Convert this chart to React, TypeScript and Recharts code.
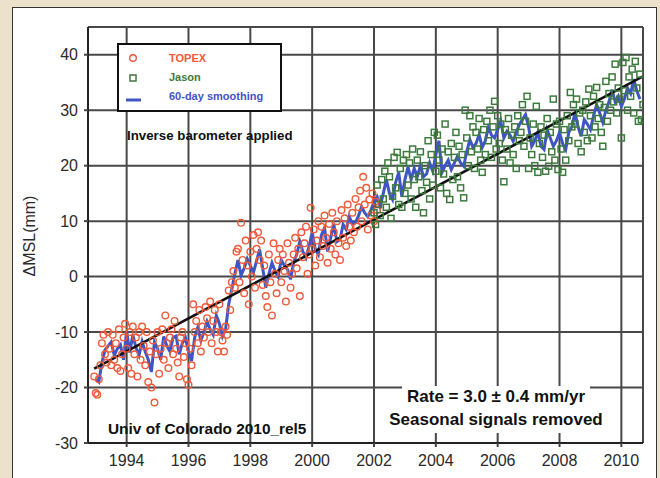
import React from 'react'
import { ComposedChart, Scatter, Line, XAxis, YAxis, CartesianGrid } from 'recharts'

// sampling cadence of each series (decimal years)
const TOPEX_START = 1992.95
const JASON_START = 2002.0
const SMOOTH_START = 1993.0
const SCATTER_STEP = 0.05
const SMOOTH_STEP = 0.1

// TOPEX sea level anomalies (mm), one per SCATTER_STEP
const topexValues = [
  -18, -21, -21.3, -18.5, -16, -12, -10.5, -14, -15.5, -10,
  -13, -16, -10.5, -15, -12, -16.5, -9.5, -17, -14, -11,
  -8.5, -13, -16.5, -10, -17.5, -9, -14, -11, -18, -10,
  -15, -9, -12.5, -16, -10, -19, -13.5, -20, -11.5, -22.7,
  -14, -10, -17.5, -13, -9.5, -15, -7, -12, -16.5, -11,
  -9.5, -14, -8, -13, -15.5, -18, -11, -10, -14.5, -12,
  -18.5, -19.5, -13, -16, -5, -10, -8, -12, -6, -13.5,
  -9, -11, -5.5, -7.5, -10, -4.5, -12, -8, -6, -10,
  -13.5, -5, -10, -11.5, -13.5, -9, -10.5, -2.5, -6, -1,
  1, -2, 4.5, 5, -1, 9.7, 3, -3, 6.5, 2,
  -5, 4.5, 0, 7.5, -2, 5, 8, 3, 6.5, -1.5,
  2, -3.5, -5.5, 4, -1, -7, 6, 0.5, -3, 3,
  5, -1, 4, 1, -4.5, 6, 2.5, -2, 0.5, 4,
  7, 1.5, 5, -3.5, 8, 3.5, 6, 9, 0.5, 4,
  12.4, 5, 8.5, 2, 6.5, 10, 3.5, 9, 5.5, 11,
  7, 2.5, 9.5, 5, 11.5, 8, 4, 10, 6, 3,
  12, 7, 10.5, 5.5, 13, 9, 6.5, 11.5, 8, 14,
  9, 12.5, 15.5, 10, 18, 13, 16, 8.5, 13.9, 11,
  15, 10, 13.5, 12,
]

// Jason sea level anomalies (mm), one per SCATTER_STEP
const jasonValues = [
  11.5, 9.4, 16.5, 13, 11, 17.5, 14, 19, 12.5, 20.5,
  18, 10.5, 14.5, 21.5, 16, 22.4, 13, 19.5, 12.5, 21,
  15, 22, 16.5, 20.5, 14, 23, 17.5, 12.5, 21, 18,
  22.5, 15.5, 11.5, 20, 17, 24.5, 14, 22, 16.5, 26,
  19, 25.5, 21, 16, 23, 18.5, 27.5, 15, 22.5, 13.9,
  24, 17.5, 21.5, 26, 18, 23.5, 16, 22, 14.2, 30,
  25, 20, 29, 22.5, 27, 19.5, 26, 23, 28.5, 21,
  18.8, 26.5, 22, 28, 24.5, 30, 21.5, 27, 31.6, 23,
  29, 24, 27.5, 21, 17.1, 26.5, 23, 28.5, 20.5, 25.5,
  22, 27, 19.5, 29, 24.5, 26, 31, 23.5, 28, 32.5,
  19.5, 25, 22, 27.5, 20, 30.7, 18.8, 24, 27, 21.5,
  25.5, 19, 28.5, 19.9, 26, 22.5, 32, 21, 27.5, 19.3,
  28, 23, 18.8, 26.5, 21, 29, 24.5, 33.2, 27, 31,
  27.5, 32, 24, 29.5, 22.5, 30, 26, 31.5, 24.5, 33.8,
  29, 25, 32.5, 27, 34.1, 28.5, 31, 26, 23.5, 30.5,
  35.2, 28, 33, 30, 36, 31.5, 38.3, 29.5, 34, 32,
  25, 38.6, 33.5, 39.5, 30, 36, 32.5, 37.4, 29.5, 38.8,
  34, 28, 36.5, 28.3, 31,
]

// 60-day smoothed curve (mm), one per SMOOTH_STEP
const smoothValues = [
  -18.5, -19.0, -15.5, -13.2, -12.5, -11.8, -14.2, -13.0, -12.3, -15.0,
  -9.8, -13.7, -10.5, -12.8, -14.2, -11.7, -13.5, -15.0, -17.2, -11.8,
  -13.0, -15.0, -10.8, -12.5, -13.5, -11.0, -10.7, -14.0, -12.0, -11.0,
  -13.5, -15.2, -11.0, -9.2, -11.5, -10.0, -8.1, -9.5, -10.5, -7.0,
  -8.5, -10.8, -9.5, -5.0, -2.3, 0.5, 3.0, 0.2, 1.5, 3.2,
  2.0, 0.7, 2.8, 4.9, 1.5, -2.0, 0.5, 2.5, 1.0, 0.0,
  3.0, 2.0, 1.3, -0.5, 2.5, 4.0, 6.3, 4.5, 3.4, 5.5,
  8.0, 5.0, 4.0, 7.5, 8.8, 4.5, 7.0, 9.4, 6.3, 6.7,
  9.4, 8.5, 10.8, 9.5, 9.7, 11.0, 12.6, 11.5, 10.8, 12.0,
  13.5, 14.4, 12.6, 15.0, 17.5, 15.0, 13.9, 17.0, 18.8, 14.4,
  17.5, 19.8, 17.5, 19.5, 18.0, 20.0, 18.0, 18.5, 20.5, 19.0,
  22.0, 24.5, 18.8, 20.0, 21.0, 19.3, 20.5, 21.7, 20.5, 19.9,
  22.5, 24.7, 23.3, 24.0, 25.6, 23.3, 24.5, 26.9, 25.5, 25.0,
  26.5, 28.0, 25.0, 26.2, 25.5, 24.4, 26.0, 27.4, 28.3, 29.2,
  27.0, 23.5, 24.5, 26.0, 23.5, 22.9, 26.5, 25.0, 23.5, 24.5,
  26.0, 24.0, 22.9, 26.0, 27.0, 29.6, 27.0, 25.3, 28.3, 27.5,
  26.5, 29.0, 31.0, 29.5, 27.8, 30.0, 31.5, 33.7, 31.5, 32.5,
  30.7, 32.0, 34.0, 33.0, 35.6, 33.5, 32.0,
]

// linear fit, 3.0 mm/yr
const trendYears = [1992.95, 2010.7]
const trendValues = [-16.6, 36.1]

const yearTicks = [1994, 1996, 1998, 2000, 2002, 2004, 2006, 2008, 2010]
const mmTicks = [-30, -20, -10, 0, 10, 20, 30, 40]
const X_DOMAIN = [1992.75, 2010.7]
const Y_DOMAIN = [-30, 45]

const minorYears = Array.from({ length: 72 }, (_, i) => 1993 + i * 0.25)
const minorMm = Array.from({ length: 38 }, (_, i) => -30 + i * 2)

const TOPEX_COLOR = '#ee5a3a'
const JASON_COLOR = '#3d7a3d'
const SMOOTH_COLOR = '#3f55c4'
const FONT = '"Liberation Sans", Arial, Helvetica, sans-serif'

const series = (start: number, step: number, vals: number[]) =>
  vals.map((v, i) => ({ x: Math.round((start + i * step) * 1000) / 1000, y: v }))

const topex = series(TOPEX_START, SCATTER_STEP, topexValues)
const jason = series(JASON_START, SCATTER_STEP, jasonValues)
const smooth = series(SMOOTH_START, SMOOTH_STEP, smoothValues)
const trend = trendYears.map((x, i) => ({ x, y: trendValues[i] }))

const circle = (p: any) => (
  <circle cx={p.cx} cy={p.cy} r={3.3} fill="none" stroke={TOPEX_COLOR} strokeWidth={1.4} />
)
const square = (p: any) => (
  <rect x={p.cx - 3} y={p.cy - 3} width={6} height={6} fill="none" stroke={JASON_COLOR} strokeWidth={1.5} />
)

const tickStyle = { fill: '#2a2a2a', fontSize: 16, fontFamily: FONT }

export default function App() {
  return (
    <div style={{ position: 'absolute', left: 0, top: 0, width: 660, height: 478, background: '#ece2cb', overflow: 'hidden', fontFamily: FONT }}>
      <div style={{ position: 'absolute', left: 12, top: 7, width: 645, height: 480, background: '#fff', border: '1.5px solid #333', boxSizing: 'border-box' }} />

      <div style={{ position: 'absolute', left: 0, top: 0 }}>
        <ComposedChart width={660} height={478} margin={{ top: 27, right: 17, bottom: 5, left: 48 }}>
          <CartesianGrid stroke="#484848" strokeWidth={2} />
          <XAxis xAxisId="minB" type="number" domain={X_DOMAIN} ticks={minorYears} tick={false} tickSize={3} axisLine={false} height={0} allowDataOverflow tickLine={{ stroke: '#444' }} />
          <XAxis type="number" dataKey="x" domain={X_DOMAIN} ticks={yearTicks} allowDataOverflow height={30}
            tick={tickStyle} tickSize={4} tickMargin={8} tickLine={{ stroke: '#444', strokeWidth: 2 }}
            axisLine={{ stroke: '#222', strokeWidth: 2 }} />
          <XAxis xAxisId="top" orientation="top" type="number" domain={X_DOMAIN} ticks={minorYears} tick={false} tickSize={3} height={0} allowDataOverflow
            tickLine={{ stroke: '#444' }} axisLine={{ stroke: '#222', strokeWidth: 2 }} />
          <YAxis yAxisId="minL" type="number" domain={Y_DOMAIN} ticks={minorMm} tick={false} tickSize={3} width={0} axisLine={false} allowDataOverflow tickLine={{ stroke: '#444' }} />
          <YAxis type="number" dataKey="y" domain={Y_DOMAIN} ticks={mmTicks} allowDataOverflow width={40}
            tick={tickStyle} tickSize={4} tickMargin={6} tickLine={{ stroke: '#444', strokeWidth: 2 }}
            axisLine={{ stroke: '#222', strokeWidth: 2 }} />
          <YAxis yAxisId="right" orientation="right" type="number" domain={Y_DOMAIN} ticks={minorMm} tick={false} tickSize={3} width={0} allowDataOverflow
            tickLine={{ stroke: '#444' }} axisLine={{ stroke: '#222', strokeWidth: 2 }} />

          <Scatter data={topex} dataKey="y" shape={circle} isAnimationActive={false} />
          <Scatter data={jason} dataKey="y" shape={square} isAnimationActive={false} />
          <Line data={smooth} dataKey="y" type="linear" stroke={SMOOTH_COLOR} strokeWidth={3} dot={false} isAnimationActive={false} />
          <Line data={trend} dataKey="y" type="linear" stroke="#111" strokeWidth={2.6} dot={false} isAnimationActive={false} />
        </ComposedChart>
      </div>

      {/* y-axis title */}
      <div style={{ position: 'absolute', left: 30, top: 236, transform: 'translate(-50%, -50%) rotate(-90deg)', whiteSpace: 'nowrap', fontSize: 16, color: '#2a2a2a' }}>
        ΔMSL(mm)
      </div>

      {/* legend */}
      <div style={{ position: 'absolute', left: 117, top: 43, width: 165, height: 69, border: '2px solid #111', background: '#fff', boxSizing: 'border-box', fontSize: 11, fontWeight: 'bold' }}>
        <svg width={30} height={65} style={{ position: 'absolute', left: 0, top: 0 }}>
          <circle cx={14} cy={13} r={3.3} fill="none" stroke={TOPEX_COLOR} strokeWidth={1.4} />
          <rect x={11} y={30} width={6} height={6} fill="none" stroke={JASON_COLOR} strokeWidth={1.5} />
          <line x1={7} x2={22} y1={55} y2={55} stroke={SMOOTH_COLOR} strokeWidth={3} />
        </svg>
        <div style={{ position: 'absolute', left: 50, top: 7, color: TOPEX_COLOR }}>TOPEX</div>
        <div style={{ position: 'absolute', left: 50, top: 26, color: JASON_COLOR }}>Jason</div>
        <div style={{ position: 'absolute', left: 50, top: 45, color: SMOOTH_COLOR }}>60-day smoothing</div>
      </div>

      <div style={{ position: 'absolute', left: 127, top: 128, fontSize: 13.3, fontWeight: 'bold', color: '#111', whiteSpace: 'nowrap' }}>
        Inverse barometer applied
      </div>
      <div style={{ position: 'absolute', left: 108, top: 420, fontSize: 15.4, fontWeight: 'bold', color: '#111', whiteSpace: 'nowrap' }}>
        Univ of Colorado 2010_rel5
      </div>

      <div style={{ position: 'absolute', left: 402, top: 386, width: 188, height: 24, background: '#fff' }} />
      <div style={{ position: 'absolute', left: 385, top: 408, width: 222, height: 25, background: '#fff' }} />
      <div style={{ position: 'absolute', left: 380, top: 385, width: 232, textAlign: 'center', fontSize: 17, fontWeight: 'bold', color: '#111', lineHeight: '23px', whiteSpace: 'nowrap' }}>
        <div>Rate = 3.0 ± 0.4 mm/yr</div>
        <div>Seasonal signals removed</div>
      </div>
    </div>
  )
}
